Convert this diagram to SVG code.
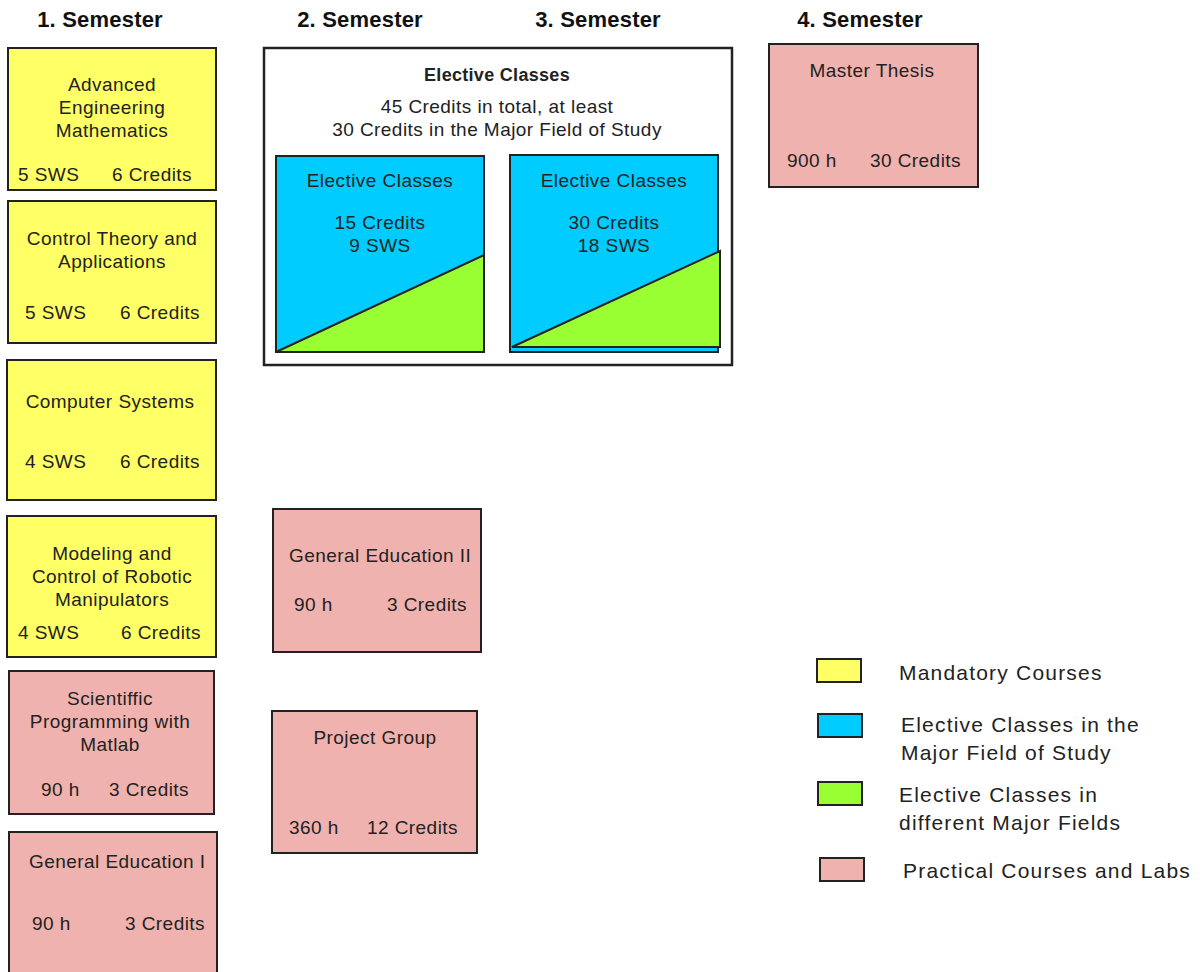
<svg xmlns="http://www.w3.org/2000/svg" width="1200" height="972" viewBox="0 0 1200 972">
<style>
text{font-family:"Liberation Sans",Arial,sans-serif;font-size:19px;letter-spacing:0.45px;fill:#222}
.h{font-size:22px;font-weight:bold;letter-spacing:0.2px;fill:#111;text-anchor:middle}
.c{text-anchor:middle}
.e{text-anchor:end}
.b{font-weight:bold;font-size:18px;letter-spacing:0.3px}
.lg{font-size:21px;letter-spacing:1.2px}
.y{fill:#FFFF66;stroke:#222;stroke-width:2}
.p{fill:#F0B2AE;stroke:#222;stroke-width:2}
.bl{fill:#00CCFF;stroke:#222;stroke-width:2}
.g{fill:#99FF33;stroke:#222;stroke-width:2}
.w{fill:#fff;stroke:#222;stroke-width:2.5}
</style>
<rect width="1200" height="972" fill="#fff"/>
<g id="headers">
<text class="h" x="100" y="27">1. Semester</text>
<text class="h" x="360" y="27">2. Semester</text>
<text class="h" x="598" y="27">3. Semester</text>
<text class="h" x="860" y="27">4. Semester</text>
</g>
<g id="aem">
<rect class="y" x="8" y="48" width="208" height="142"/>
<text class="c" x="112" y="91">Advanced</text>
<text class="c" x="112" y="114">Engineering</text>
<text class="c" x="112" y="137">Mathematics</text>
<text x="18" y="181">5 SWS</text>
<text class="e" x="192" y="181">6 Credits</text>
</g>
<g id="ctrl">
<rect class="y" x="8" y="201" width="208" height="142"/>
<text class="c" x="112" y="245">Control Theory and</text>
<text class="c" x="112" y="268">Applications</text>
<text x="25" y="319">5 SWS</text>
<text class="e" x="200" y="319">6 Credits</text>
</g>
<g id="cs">
<rect class="y" x="7" y="360" width="209" height="140"/>
<text class="c" x="110" y="408">Computer Systems</text>
<text x="25" y="468">4 SWS</text>
<text class="e" x="200" y="468">6 Credits</text>
</g>
<g id="robot">
<rect class="y" x="7" y="516" width="209" height="141"/>
<text class="c" x="112" y="560">Modeling and</text>
<text class="c" x="112" y="583">Control of Robotic</text>
<text class="c" x="112" y="606">Manipulators</text>
<text x="18" y="639">4 SWS</text>
<text class="e" x="201" y="639">6 Credits</text>
</g>
<g id="matlab">
<rect class="p" x="9" y="671" width="205" height="143"/>
<text class="c" x="110" y="705">Scientiffic</text>
<text class="c" x="110" y="728">Programming with</text>
<text class="c" x="110" y="751">Matlab</text>
<text x="41" y="796">90 h</text>
<text class="e" x="189" y="796">3 Credits</text>
</g>
<g id="ge1">
<rect class="p" x="9" y="832" width="208" height="145"/>
<text x="29" y="868">General Education I</text>
<text x="32" y="930">90 h</text>
<text class="e" x="205" y="930">3 Credits</text>
</g>
<g id="elective">
<rect class="w" x="264" y="48" width="468" height="317"/>
<text class="c b" x="497" y="81">Elective Classes</text>
<text class="c" x="497" y="113">45 Credits in total, at least</text>
<text class="c" x="497" y="136">30 Credits in the Major Field of Study</text>
</g>
<g id="el2">
<rect class="bl" x="276" y="156" width="208" height="196"/>
<polygon class="g" points="276,352 484,255 484,352"/>
<text class="c" x="380" y="187">Elective Classes</text>
<text class="c" x="380" y="229">15 Credits</text>
<text class="c" x="380" y="252">9 SWS</text>
</g>
<g id="el3">
<rect class="bl" x="510" y="155" width="208" height="197"/>
<polygon class="g" points="512,347 720,251 720,347"/>
<text class="c" x="614" y="187">Elective Classes</text>
<text class="c" x="614" y="229">30 Credits</text>
<text class="c" x="614" y="252">18 SWS</text>
</g>
<g id="thesis">
<rect class="p" x="769" y="44" width="209" height="143"/>
<text class="c" x="872" y="77">Master Thesis</text>
<text x="787" y="167">900 h</text>
<text class="e" x="961" y="167">30 Credits</text>
</g>
<g id="ge2">
<rect class="p" x="273" y="509" width="208" height="143"/>
<text x="289" y="562">General Education II</text>
<text x="294" y="611">90 h</text>
<text class="e" x="467" y="611">3 Credits</text>
</g>
<g id="pg">
<rect class="p" x="272" y="711" width="205" height="142"/>
<text class="c" x="375" y="744">Project Group</text>
<text x="289" y="834">360 h</text>
<text class="e" x="458" y="834">12 Credits</text>
</g>
<g id="legend">
<rect class="y" x="817" y="659" width="44" height="23"/>
<text class="lg" x="899" y="680">Mandatory Courses</text>
<rect class="bl" x="818" y="714" width="44" height="23"/>
<text class="lg" x="901" y="732">Elective Classes in the</text>
<text class="lg" x="901" y="760">Major Field of Study</text>
<rect class="g" x="818" y="782" width="44" height="23"/>
<text class="lg" x="899" y="802">Elective Classes in</text>
<text class="lg" x="899" y="830">different Major Fields</text>
<rect class="p" x="820" y="858" width="44" height="23"/>
<text class="lg" x="903" y="878">Practical Courses and Labs</text>
</g>
</svg>
